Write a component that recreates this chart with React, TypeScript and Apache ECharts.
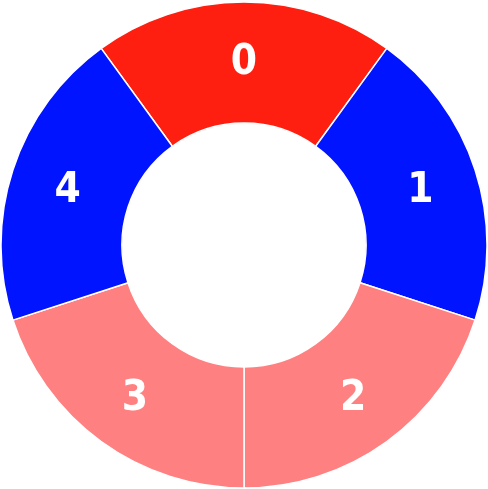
import React, { useEffect, useRef } from "react";
import * as echarts from "echarts";

const categories = ["0", "1", "2", "3", "4"];
const values = [1, 1, 1, 1, 1];
const colors = ["#ff1f10", "#0014ff", "#ff8080", "#ff8080", "#0014ff"];

export default function App() {
  const ref = useRef<HTMLDivElement>(null);
  useEffect(() => {
    document.body.style.margin = "0";
    const chart = echarts.init(ref.current!, null, { renderer: "svg" });
    chart.setOption({
      animation: false,
      series: [
        {
          type: "pie",
          center: [244, 245],
          radius: [122, 243],
          startAngle: 126,
          clockwise: true,
          avoidLabelOverlap: false,
          itemStyle: { borderColor: "#ffffff", borderWidth: 1.5 },
          label: {
            show: true,
            position: "inside",
            formatter: "{b}",
            color: "#ffffff",
            fontFamily: "DejaVu Sans Condensed",
            fontWeight: "bold",
            fontSize: 42,
          },
          labelLine: { show: false },
          emphasis: { disabled: true },
          data: categories.map((c, i) => ({
            name: c,
            value: values[i],
            itemStyle: { color: colors[i] },
          })),
        },
      ],
    });
    return () => chart.dispose();
  }, []);
  return <div ref={ref} style={{ position: "fixed", left: 0, top: 0, width: 488, height: 489 }} />;
}
